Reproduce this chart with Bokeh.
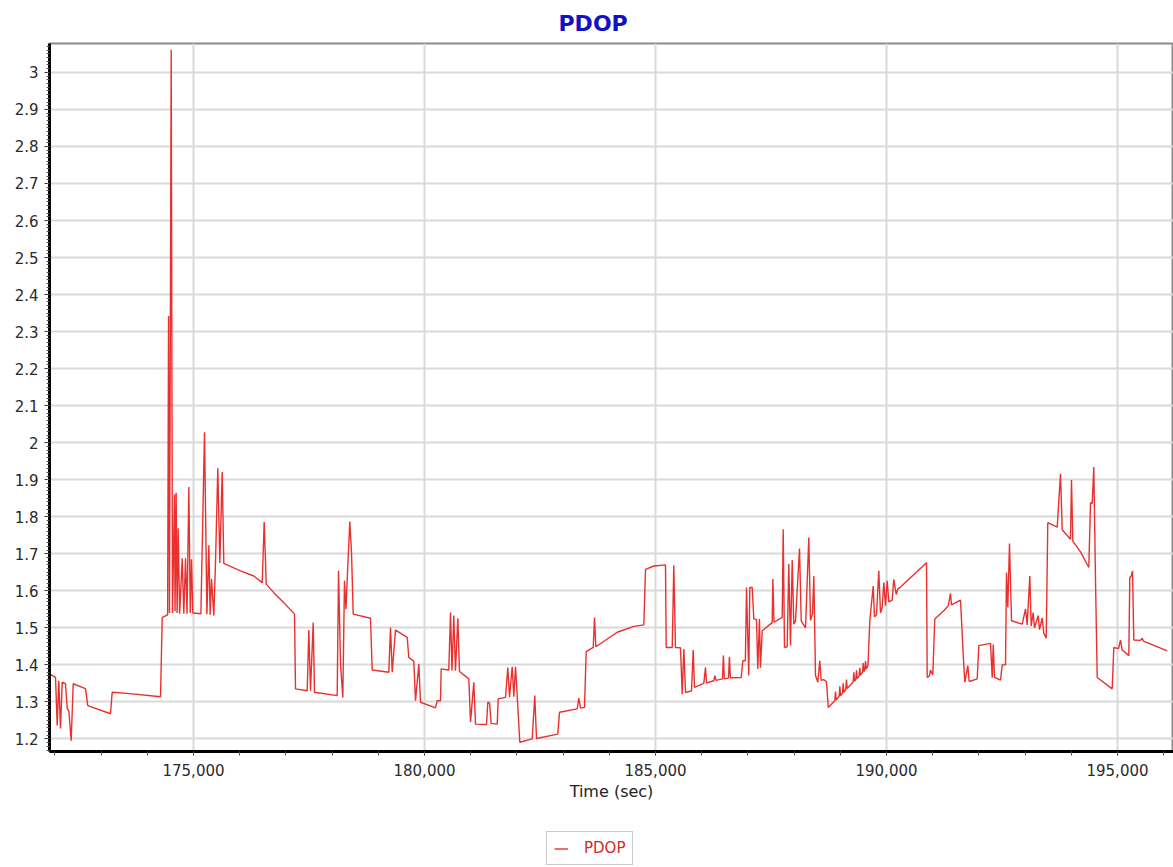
from bokeh.plotting import figure
from bokeh.layouts import column
from bokeh.models import (SingleIntervalTicker, NumeralTickFormatter, Range1d,
                          Legend, LegendItem)
from bokeh.embed import file_html
from bokeh.resources import INLINE

# ---- data ----
time_sec = [
    171890, 172013, 172050, 172084, 172121, 172158, 172229, 172266, 172301, 172353,
    172396, 172662, 172712, 173203, 173240, 173565, 174286, 174323,
    174440, 174460, 174480, 174517, 174545, 174588, 174600, 174624, 174645, 174668,
    174700, 174755, 174790, 174827, 174860, 174899, 174930, 174957, 174985, 175160,
    175238, 175290, 175332, 175360, 175390, 175440, 175476, 175526, 175570, 175621,
    175656,
    176017, 176305, 176487, 176530, 176574, 176738, 176955, 177186, 177208, 177461,
    177496, 177532, 177591, 177619, 178110, 178139, 178182, 178232, 178268, 178300,
    178327, 178383, 178420, 178457, 178831, 178868, 179227, 179264, 179301, 179372,
    179626, 179660, 179768, 179805, 179877, 179913, 180238, 180275, 180346, 180361,
    180526, 180563, 180595, 180634, 180670, 180721, 180757, 180959, 180996, 181067,
    181104, 181342, 181370, 181407, 181444, 181574, 181595, 181753, 181803, 181840,
    181898, 181933, 181970, 182006, 182063, 182331, 182387, 182424, 182885, 182922,
    183305, 183340, 183377, 183463, 183500, 183652, 183680, 183708, 184171, 184530,
    184747, 184784, 184963, 185216, 185232, 185362, 185396, 185432, 185541, 185578,
    185613, 185650, 185780, 185816, 185844, 186045, 186082, 186104, 186262, 186284,
    186310, 186450, 186470, 186490, 186580, 186600, 186620, 186855, 186890, 186945,
    186970, 187019, 187041, 187093, 187128, 187186, 187214, 187250, 187272, 187310,
    187526, 187540, 187565, 187742, 187764, 187792, 187850, 187885, 187922, 187959,
    187993, 188030, 188117, 188154, 188247, 188318, 188355, 188398, 188427, 188463,
    188513, 188556, 188586, 188637, 188700, 188740,
    188881, 188896, 188911, 188975, 188990, 189005, 189048, 189063, 189078,
    189119, 189134, 189149, 189278, 189293, 189308, 189336, 189351, 189366,
    189407, 189422, 189437, 189481, 189496, 189511, 189531, 189546, 189561,
    189582, 189600, 189639, 189712, 189740, 189783, 189833, 189870, 189907, 189942,
    189978, 190015, 190050, 190123, 190158, 190210, 190244, 190303, 190866, 190881,
    190930, 190952, 191002, 191045, 191240, 191338, 191385, 191406, 191602, 191660,
    191695, 191760, 191790, 191963, 191998, 192251, 192288, 192310, 192338, 192468,
    192504, 192576, 192597, 192626, 192662, 192706, 192937, 193009, 193045, 193102,
    193132, 193175, 193204, 193283, 193312, 193370, 193405, 193457, 193491, 193695,
    193766, 193803, 193983, 194004, 194033, 194200, 194379, 194416, 194452, 194487,
    194524, 194561, 194885, 194920, 195022, 195065, 195101, 195245, 195266, 195297,
    195325, 195353, 195497, 195533, 195562, 196076,
]
pdop = [
    1.375, 1.366, 1.236, 1.357, 1.228, 1.353, 1.349, 1.282, 1.276, 1.195,
    1.349, 1.336, 1.290, 1.268, 1.326, 1.323, 1.314, 1.528,
    1.535, 2.342, 1.540, 3.061, 1.540, 1.860, 1.545, 1.865, 1.540, 1.769,
    1.538, 1.688, 1.538, 1.688, 1.538, 1.880, 1.540, 1.685, 1.540, 1.538,
    2.028, 1.537, 1.723, 1.535, 1.632, 1.533, 1.677, 1.931, 1.675, 1.921,
    1.674,
    1.654, 1.640, 1.622, 1.786, 1.618, 1.595, 1.568, 1.537, 1.335, 1.330,
    1.494, 1.330, 1.514, 1.326, 1.317, 1.654, 1.402, 1.312, 1.627, 1.550,
    1.630, 1.787, 1.703, 1.537, 1.526, 1.386, 1.380, 1.501, 1.380, 1.494,
    1.474, 1.420, 1.410, 1.303, 1.402, 1.299, 1.284, 1.303, 1.303, 1.389,
    1.386, 1.541, 1.385, 1.533, 1.384, 1.526, 1.382, 1.362, 1.245, 1.353,
    1.240, 1.239, 1.299, 1.297, 1.242, 1.240, 1.308, 1.312, 1.393, 1.313,
    1.395, 1.314, 1.395, 1.317, 1.191, 1.200, 1.317, 1.201, 1.213, 1.272,
    1.281, 1.310, 1.283, 1.285, 1.436, 1.447, 1.528, 1.449, 1.488, 1.504,
    1.508, 1.658, 1.667, 1.670, 1.447, 1.447, 1.669, 1.447, 1.446, 1.321,
    1.443, 1.325, 1.330, 1.440, 1.339, 1.350, 1.393, 1.351, 1.357, 1.371,
    1.358, 1.362, 1.425, 1.362, 1.364, 1.422, 1.365, 1.366, 1.411, 1.411,
    1.609, 1.371, 1.609, 1.609, 1.524, 1.522, 1.389, 1.524, 1.392, 1.492,
    1.514, 1.632, 1.515, 1.528, 1.766, 1.447, 1.449, 1.672, 1.452, 1.683,
    1.510, 1.518, 1.714, 1.519, 1.500, 1.744, 1.520, 1.538, 1.640, 1.371,
    1.353, 1.411, 1.358, 1.360, 1.355, 1.285,
    1.303, 1.328, 1.305, 1.315, 1.342, 1.317, 1.324, 1.350, 1.326,
    1.334, 1.360, 1.336, 1.354, 1.380, 1.356, 1.361, 1.385, 1.363,
    1.370, 1.392, 1.372, 1.380, 1.405, 1.382, 1.386, 1.410, 1.389,
    1.393, 1.400, 1.519, 1.613, 1.530, 1.535, 1.654, 1.540, 1.555, 1.622,
    1.560, 1.627, 1.570, 1.575, 1.631, 1.590, 1.605, 1.610, 1.676, 1.366,
    1.370, 1.386, 1.373, 1.524, 1.546, 1.560, 1.593, 1.562, 1.575, 1.429,
    1.353, 1.398, 1.355, 1.362, 1.452, 1.458, 1.365, 1.455, 1.366, 1.359,
    1.400, 1.400, 1.649, 1.555, 1.728, 1.519, 1.510, 1.551, 1.508, 1.640,
    1.505, 1.541, 1.500, 1.533, 1.495, 1.527, 1.485, 1.472, 1.784, 1.772,
    1.916, 1.765, 1.739, 1.899, 1.734, 1.705, 1.663, 1.838, 1.836, 1.934,
    1.627, 1.366, 1.335, 1.447, 1.444, 1.467, 1.440, 1.425, 1.636, 1.640,
    1.654, 1.467, 1.466, 1.472, 1.464, 1.438,
]
series_name = "PDOP"
x_axis_title = "Time (sec)"
line_color = "#e8312f"

# ---- main chart ----
p = figure(width=1173, height=827, output_backend="svg", toolbar_location=None,
           x_range=Range1d(171883, 196212), y_range=Range1d(1.166, 3.078),
           min_border_left=49, min_border_right=0, min_border_top=42,
           min_border_bottom=76, background_fill_color="white",
           border_fill_color="white")

p.title.text = series_name
p.title.align = "left"
p.title.text_font = "DejaVu Sans"
p.title.text_font_size = "22px"
p.title.text_font_style = "bold"
p.title.text_color = "#1212c4"
p.title.offset = 509
p.title.standoff = 16

p.outline_line_color = "#8a8a8a"
p.outline_line_width = 2

xt = SingleIntervalTicker(interval=5000, num_minor_ticks=5)
yt = SingleIntervalTicker(interval=0.1, num_minor_ticks=10)
p.xaxis.ticker = xt
p.yaxis.ticker = yt
p.xgrid.ticker = xt
p.ygrid.ticker = yt
p.xaxis.formatter = NumeralTickFormatter(format="0,0")
p.yaxis.formatter = NumeralTickFormatter(format="0.[0]")

for ax in (p.xaxis[0], p.yaxis[0]):
    ax.axis_line_color = "black"
    ax.axis_line_width = 3
    ax.major_tick_line_color = "#333333"
    ax.minor_tick_line_color = "#555555"
    ax.major_tick_in = 0
    ax.minor_tick_in = 0
    ax.major_label_text_font = "DejaVu Sans"
    ax.major_label_text_font_size = "15px"
    ax.major_label_text_color = "#2a2a2a"
    ax.major_label_standoff = 6

p.yaxis.major_tick_out = 5
p.yaxis.minor_tick_out = 3
p.xaxis.major_tick_out = 4
p.xaxis.minor_tick_out = 4
p.xaxis.major_label_standoff = 8

p.xaxis.axis_label = x_axis_title
p.xaxis.axis_label_text_font = "DejaVu Sans"
p.xaxis.axis_label_text_font_size = "16px"
p.xaxis.axis_label_text_font_style = "normal"
p.xaxis.axis_label_text_color = "#222222"
p.xaxis.axis_label_standoff = 3

p.xgrid.grid_line_color = "#d9d9d9"
p.xgrid.grid_line_width = 2
p.ygrid.grid_line_color = "#d9d9d9"
p.ygrid.grid_line_width = 2

p.line(time_sec, pdop, line_color=line_color, line_width=1.4)

# ---- legend strip below the chart (series drawn off-range, only its key shows) ----
p2 = figure(width=1173, height=40, output_backend="svg", toolbar_location=None,
            title=None, x_axis_location=None, y_axis_location=None,
            x_range=Range1d(0, 1), y_range=Range1d(0, 1),
            min_border_left=0, min_border_right=0, min_border_top=0,
            min_border_bottom=0, outline_line_color=None,
            background_fill_color="white", border_fill_color="white")
p2.grid.visible = False
r2 = p2.line(time_sec, pdop, line_color=line_color, line_width=1.4)

legend = Legend(items=[LegendItem(label=series_name, renderers=[r2])],
                location=(497, 2), orientation="horizontal",
                border_line_color="#9a9a9a", border_line_width=1,
                background_fill_color="white", padding=7, margin=0,
                glyph_width=14, glyph_height=15, label_standoff=16,
                label_text_font="DejaVu Sans", label_text_font_size="15px",
                label_text_color="#d02a2a", label_height=17)
p2.add_layout(legend, "center")

layout = column(p, p2, spacing=0)
open("out.html", "w").write(file_html(layout, INLINE))
